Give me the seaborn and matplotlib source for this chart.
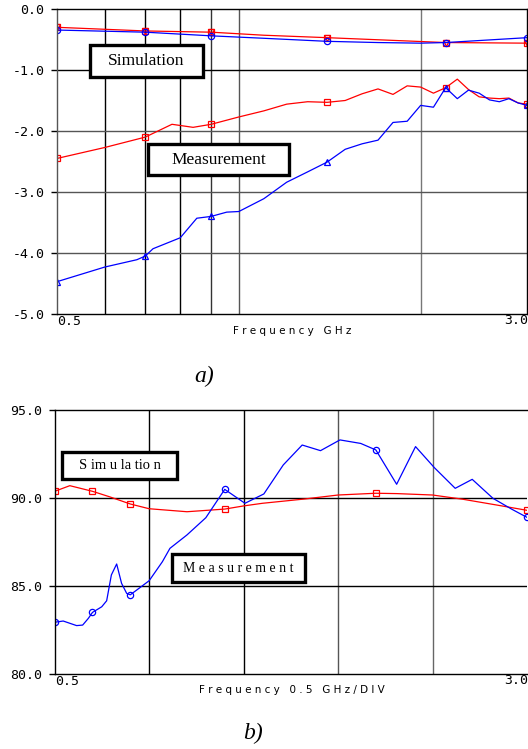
import numpy as np
import matplotlib
matplotlib.use("Agg")
import matplotlib.pyplot as plt
from matplotlib.patches import Rectangle
import seaborn as sns

# ---- a) top panel (log frequency axis) ----
f_sim_a_red = [0.5, 0.7, 0.9, 1.1, 1.4, 2.2, 3.0]
v_sim_a_red = [-0.30, -0.36, -0.38, -0.43, -0.47, -0.55, -0.56]
f_sim_a_blue = [0.5, 0.7, 0.9, 1.1, 1.4, 1.7, 2.0, 2.2, 3.0]
v_sim_a_blue = [-0.345, -0.38, -0.44, -0.48, -0.53, -0.55, -0.56, -0.55, -0.47]

f_meas_a_red = [0.5, 0.6, 0.7, 0.775, 0.84, 0.9, 1.0, 1.1, 1.2, 1.3, 1.4, 1.5, 1.6, 1.7,
                1.8, 1.9, 2.0, 2.1, 2.2, 2.3, 2.4, 2.5, 2.6, 2.7, 2.8, 2.9, 3.0]
v_meas_a_red = [-2.45, -2.27, -2.10, -1.89, -1.94, -1.89, -1.77, -1.67, -1.56, -1.52, -1.53,
                -1.50, -1.39, -1.31, -1.40, -1.26, -1.28, -1.38, -1.29, -1.15, -1.32, -1.44,
                -1.46, -1.47, -1.46, -1.54, -1.56]
f_meas_a_blue = [0.5, 0.6, 0.678, 0.7, 0.721, 0.8, 0.852, 0.9, 0.955, 1.0, 1.1, 1.2, 1.3,
                 1.4, 1.5, 1.6, 1.7, 1.8, 1.9, 2.0, 2.1, 2.2, 2.3, 2.4, 2.5, 2.6, 2.7, 2.8,
                 2.9, 3.0]
v_meas_a_blue = [-4.47, -4.23, -4.11, -4.05, -3.93, -3.75, -3.43, -3.40, -3.33, -3.32, -3.11,
                 -2.84, -2.67, -2.51, -2.30, -2.21, -2.15, -1.86, -1.84, -1.58, -1.61, -1.29,
                 -1.47, -1.33, -1.38, -1.49, -1.52, -1.47, -1.54, -1.58]

# ---- b) bottom panel (linear frequency axis) ----
f_sim_b = [0.5, 0.58, 0.7, 0.79, 0.9, 1.0, 1.2, 1.4, 1.5, 1.6, 1.82, 2.0, 2.2, 2.31, 2.5,
           2.66, 2.84, 3.0]
v_sim_b = [90.38, 90.70, 90.38, 90.07, 89.66, 89.39, 89.22, 89.37, 89.55, 89.70, 89.94,
           90.17, 90.27, 90.25, 90.17, 89.93, 89.60, 89.30]
f_meas_b = [0.5, 0.545, 0.616, 0.648, 0.678, 0.7, 0.749, 0.775, 0.8, 0.828, 0.854, 0.881,
            0.9, 0.934, 1.0, 1.07, 1.11, 1.2, 1.3, 1.4, 1.507, 1.607, 1.71, 1.81, 1.907,
            2.01, 2.12, 2.2, 2.31, 2.41, 2.51, 2.62, 2.71, 2.82, 2.92, 3.0]
v_meas_b = [82.94, 83.01, 82.75, 82.78, 83.16, 83.5, 83.82, 84.16, 85.63, 86.25, 85.15,
            84.58, 84.5, 84.77, 85.3, 86.38, 87.14, 87.9, 88.88, 90.49, 89.70, 90.23, 91.88,
            93.01, 92.69, 93.30, 93.10, 92.73, 90.78, 92.92, 91.72, 90.55, 91.06, 89.98,
            89.36, 88.9]

mark_f = [0.5, 0.7, 0.9, 1.4, 2.2, 3.0]

sns.set_theme(style="white")
plt.rcParams["axes.unicode_minus"] = False
plt.rcParams["font.family"] = ["DejaVu Sans"]

W, H = 528, 749
fig = plt.figure(figsize=(W / 100, H / 100), dpi=100)


def fx(x):
    return x / W


def fy(y):
    return 1 - y / H


def trace(ax, f, v, color, marker, ls="-"):
    mask = list(np.isin(np.round(f, 3), mark_f))
    sns.lineplot(x=f, y=v, ax=ax, color=color, lw=0.9, ls=ls, sort=False, estimator=None,
                 marker=marker, markevery=mask, ms=4.5, mfc="none", mec=color, mew=0.9)


def frame(ax):
    for s in ax.spines.values():
        s.set_color("black")
        s.set_linewidth(1.0)
    ax.tick_params(axis="y", left=True, direction="out", length=4, width=1, pad=5,
                   labelsize=9.5, colors="black")
    for lab in ax.get_yticklabels():
        lab.set_family("DejaVu Sans Mono")
    ax.set_xlabel("")
    ax.set_ylabel("")


# ---------- panel a ----------
ax1 = fig.add_axes([fx(57), fy(314), fx(527) - fx(57), fy(9) - fy(314)])
ax1.set_xscale("log")
for g, c in zip([0.6, 0.7, 0.8, 0.9, 1.0, 2.0],
                ["black", "black", "black", "#333333", "#555555", "#777777"]):
    ax1.axvline(g, color=c, lw=1.0, zorder=0)
for g, c in zip([-1, -2, -3, -4], ["black", "#555555", "#555555", "#555555"]):
    ax1.axhline(g, color=c, lw=1.0, zorder=0)

trace(ax1, f_sim_a_red, v_sim_a_red, "red", "s")
trace(ax1, f_sim_a_red, v_sim_a_red, "red", "v", ls="none")
trace(ax1, f_sim_a_blue, v_sim_a_blue, "blue", "o")
trace(ax1, f_meas_a_red, v_meas_a_red, "red", "s")
trace(ax1, f_meas_a_blue, v_meas_a_blue, "blue", "^")

ax1.set_xlim(0.5, 3.0)
ax1.set_ylim(-5, 0)
ax1.set_xticks([])
ax1.set_xticks([], minor=True)
ax1.set_yticks([0, -1, -2, -3, -4, -5])
ax1.set_yticklabels(["0.0", "-1.0", "-2.0", "-3.0", "-4.0", "-5.0"])
frame(ax1)
ax1.spines["left"].set_color("#555555")

# ---------- panel b ----------
ax2 = fig.add_axes([fx(54.7), fy(674), fx(527) - fx(54.7), fy(410) - fy(674)])
for g, c in zip([1.0, 1.5, 2.0, 2.5], ["black", "black", "#555555", "#666666"]):
    ax2.axvline(g, color=c, lw=1.0, zorder=0)
for g in [85, 90]:
    ax2.axhline(g, color="black", lw=1.0, zorder=0)

trace(ax2, f_sim_b, v_sim_b, "red", "s")
trace(ax2, f_meas_b, v_meas_b, "blue", "o")

ax2.set_xlim(0.5, 3.0)
ax2.set_ylim(80, 95)
ax2.set_xticks([])
ax2.set_yticks([80, 85, 90, 95])
ax2.set_yticklabels(["80.0", "85.0", "90.0", "95.0"])
frame(ax2)
ax2.spines["right"].set_visible(False)

# ---------- axis texts ----------
mono = dict(family="DejaVu Sans", fontsize=7.5, color="black")
end_lab = dict(family="DejaVu Sans Mono", fontsize=9.5, color="black")
fig.text(fx(57), fy(315), "0.5", ha="left", va="top", **end_lab)
fig.text(fx(528), fy(314), "3.0", ha="right", va="top", **end_lab)
fig.text(fx(292), fy(331), "F r e q u e n c y   G H z", ha="center", va="center", **mono)
fig.text(fx(55), fy(675), "0.5", ha="left", va="top", **end_lab)
fig.text(fx(528), fy(674), "3.0", ha="right", va="top", **end_lab)
fig.text(fx(292), fy(690), "F r e q u e n c y   0 . 5   G H z / D I V", ha="center",
         va="center", **mono)

# ---------- labelled boxes ----------
boxes = [
    (90, 45, 203, 77, "Simulation", 12.5),
    (148, 144, 289, 175, "Measurement", 12.5),
    (62, 452, 177, 479, "S im u la tio n", 10.5),
    (172, 554, 305, 582, "M e a s u r e m e n t", 10),
]
for x0, y0, x1, y1, label, size in boxes:
    fig.add_artist(Rectangle((fx(x0), fy(y1)), fx(x1) - fx(x0), fy(y0) - fy(y1),
                             transform=fig.transFigure, facecolor="white",
                             edgecolor="black", lw=2.4, zorder=5))
    fig.text(fx((x0 + x1) / 2), fy((y0 + y1) / 2), label, ha="center", va="center",
             family="Liberation Serif", fontsize=size, color="black", zorder=6)

# ---------- captions ----------
fig.text(fx(204), fy(376), "a)", ha="center", va="center", family="Liberation Serif",
         style="italic", fontsize=17, color="black")
fig.text(fx(253), fy(733), "b)", ha="center", va="center", family="Liberation Serif",
         style="italic", fontsize=17, color="black")

fig.savefig("out.png", dpi=100, facecolor="white")
